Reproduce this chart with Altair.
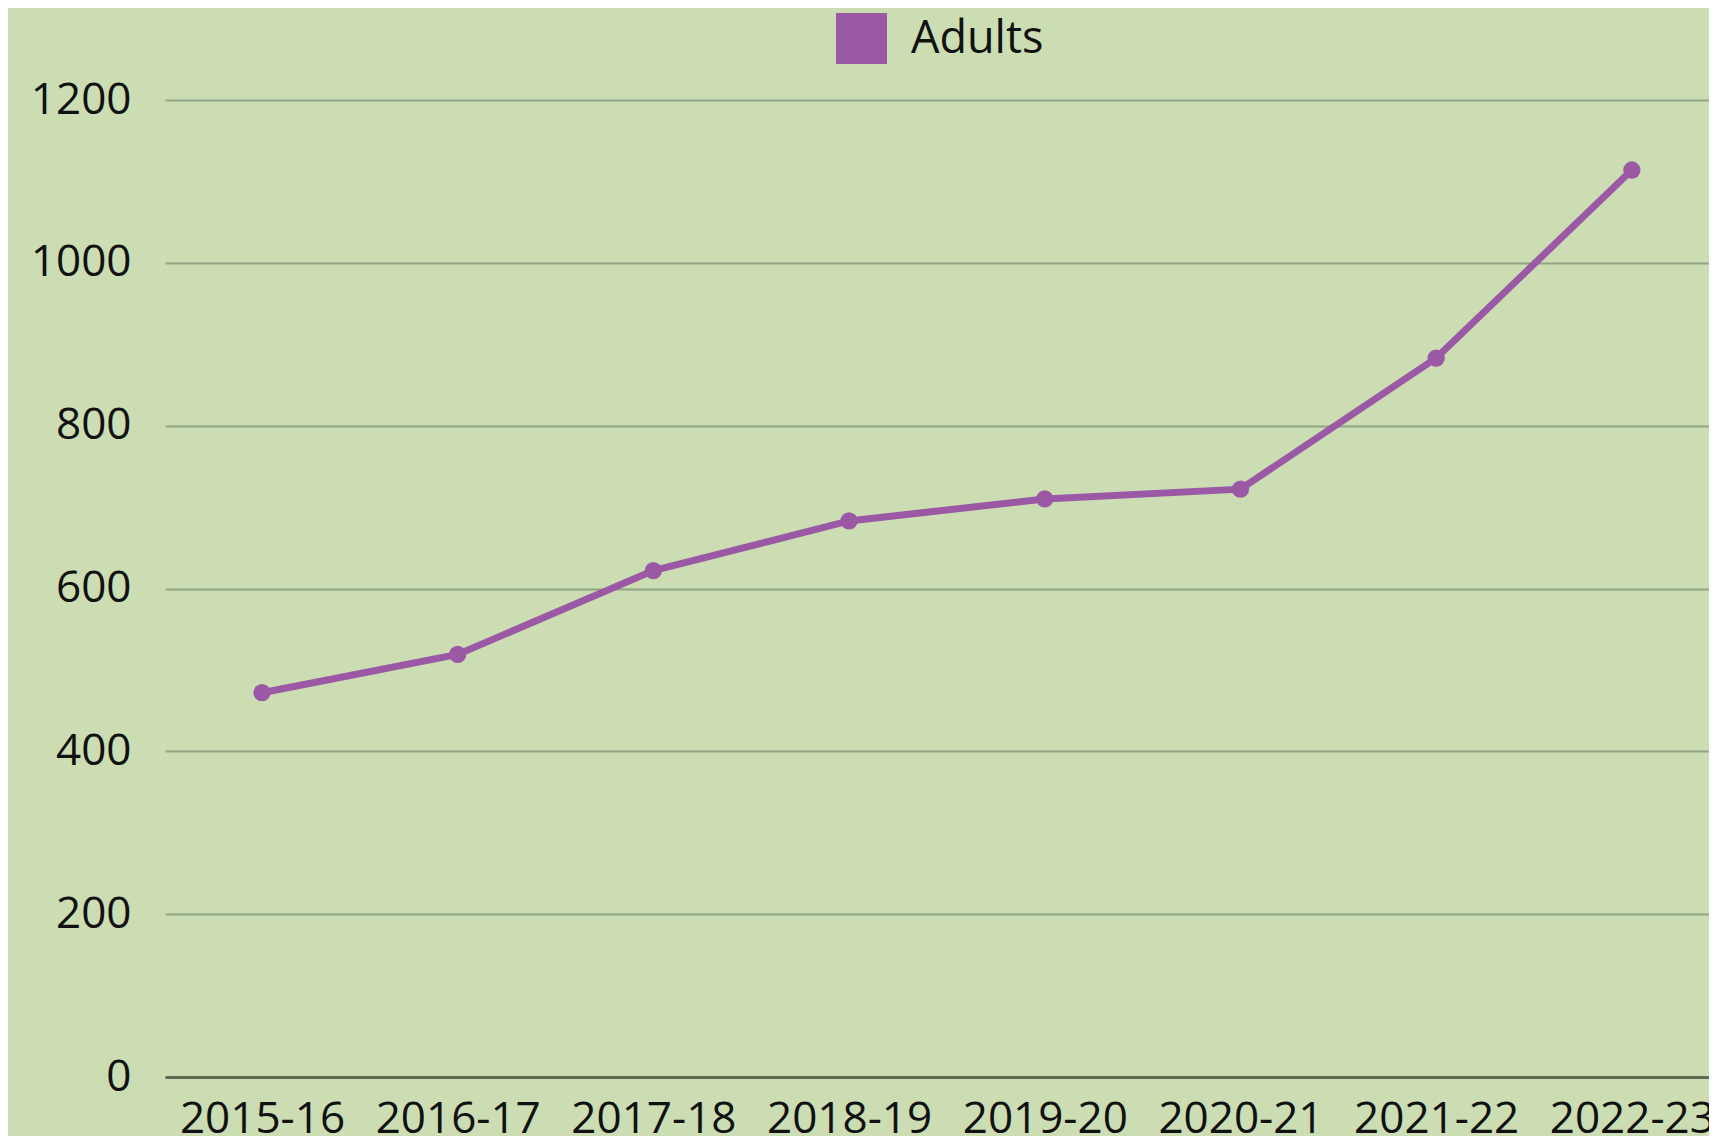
import altair as alt
import pandas as pd

years = ["2015-16", "2016-17", "2017-18", "2018-19", "2019-20", "2020-21", "2021-22", "2022-23"]
adults = [472, 519, 622, 683, 710, 722, 883, 1114]
series_name = "Adults"
y_ticks = [0, 200, 400, 600, 800, 1000, 1200]

df = pd.DataFrame({"year": years, "value": adults, "series": [series_name] * len(years)})

FONT = "Open Sans"
PURPLE = "#9B59A5"
BG = "#CCDDB3"
GRID = "#8FA585"
ZERO = "#5D6B55"
TXT = "#111111"

x = alt.X(
    "year:N", sort=years, title=None,
    scale=alt.Scale(type="point", padding=0.445, align=0.557),
    axis=alt.Axis(domain=False, ticks=False, grid=False, labelAngle=0,
                  labelFontSize=44, labelFont=FONT, labelColor=TXT, labelPadding=20),
)
y = alt.Y(
    "value:Q", title=None,
    scale=alt.Scale(domain=[0, 1200], nice=False),
    axis=alt.Axis(values=y_ticks, format="d", domain=False, ticks=False, grid=True,
                  gridColor=alt.condition("datum.value === 0", alt.value(ZERO), alt.value(GRID)),
                  gridWidth=alt.condition("datum.value === 0", alt.value(3), alt.value(2)),
                  labelFontSize=44, labelFont=FONT, labelColor=TXT, labelPadding=34),
)

base = alt.Chart(df)

line = base.mark_line(strokeWidth=7, color=PURPLE).encode(x=x, y=y)
points = base.mark_point(filled=True, size=300, opacity=1).encode(
    x=x, y=y,
    color=alt.Color(
        "series:N", scale=alt.Scale(range=[PURPLE]),
        legend=alt.Legend(title=None, orient="none", legendX=671, legendY=-87,
                          symbolType="square", symbolSize=2601, symbolStrokeWidth=0,
                          symbolOpacity=1,
                          labelFontSize=45, labelFont=FONT, labelColor=TXT, labelOffset=24),
    ),
)

chart = (line + points).properties(
    width=1544, height=977,
    autosize="none",
    padding={"left": 157, "top": 92, "right": 0, "bottom": 59},
    background=BG,
).configure_view(strokeWidth=0)

chart.save("out.html", embed_options={"renderer": "svg", "actions": False})
